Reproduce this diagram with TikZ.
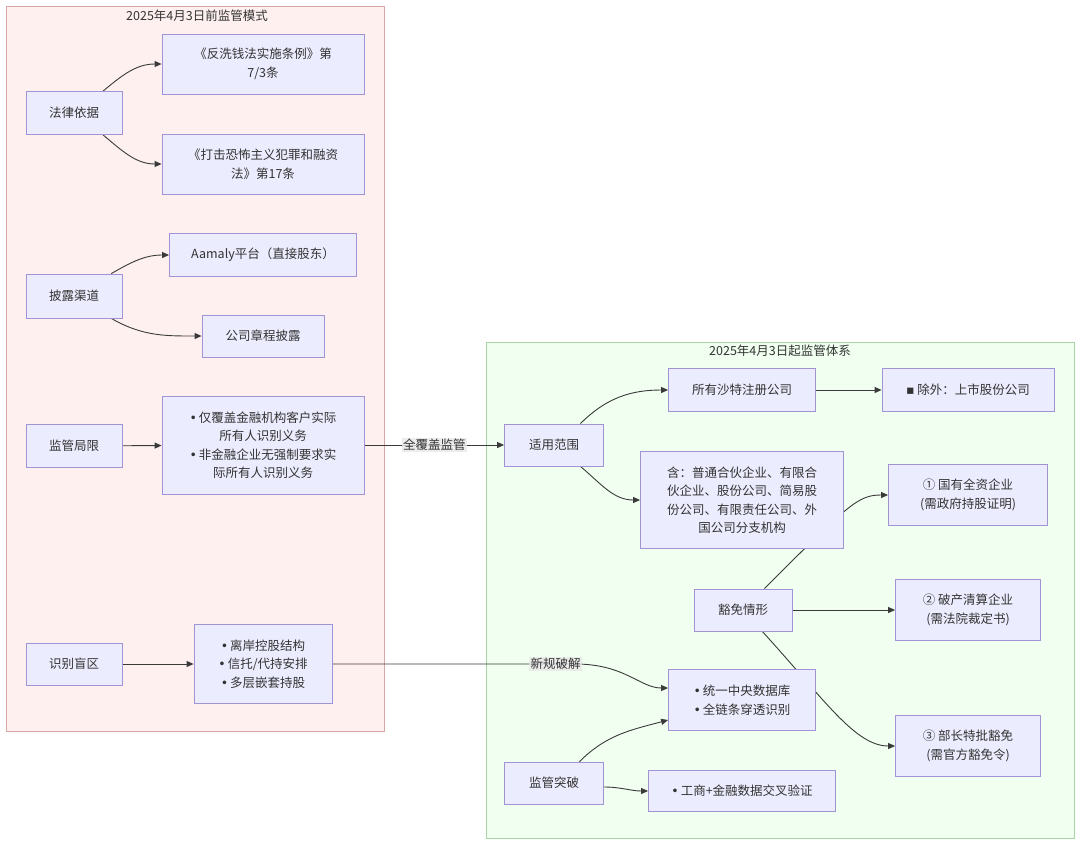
\documentclass[tikz,border=0pt]{standalone}
\usepackage{fontspec}
\setmainfont{Noto Sans CJK SC}
\newfontfamily\glyphfont{DejaVu Sans}
\usepackage{xcolor}
\usepackage{tikz}
\usetikzlibrary{arrows.meta, positioning, calc}
\definecolor{nodefill}{HTML}{ECECFF}
\definecolor{nodeborder}{HTML}{A293D6}
\definecolor{textgray}{HTML}{333333}
\definecolor{linegray}{HTML}{3A3A3A}
\definecolor{oldfill}{HTML}{FFF0F0}
\definecolor{oldborder}{HTML}{D6A8A8}
\definecolor{newfill}{HTML}{F0FFF0}
\definecolor{newborder}{HTML}{A9D6A9}
\definecolor{labelfill}{HTML}{E8E8E8}
\pgfdeclarelayer{bg}
\pgfdeclarelayer{edges}
\pgfsetlayers{bg,edges,main}
\newcommand{\bul}{{\glyphfont •}\,}
\tikzstyle{entity} = [rectangle, draw=nodeborder, fill=nodefill, text=textgray, align=center, inner sep=0pt, line width=0.8pt]
\tikzstyle{arrow} = [line width=0.9pt, draw=linegray, ->, >={Triangle[length=7pt,width=6pt]}]
\tikzstyle{edgelabel} = [fill=labelfill, fill opacity=0.8, text opacity=1, text=textgray, inner sep=1.5pt]
\tikzstyle{cluster} = [line width=0.8pt]
\tikzstyle{clustertitle} = [text=textgray]

\begin{document}
\begin{tikzpicture}[x=1pt, y=1pt, font=\fontsize{12.5}{18.5}\selectfont]
    \useasboundingbox (0,0) rectangle (1080,-846);

    % Clusters
    \begin{pgfonlayer}{bg}
    \fill [white] (0,0) rectangle (1080,-846);
    \draw [cluster, draw=oldborder, fill=oldfill] (6,-6) rectangle (384,-731);
    \draw [cluster, draw=newborder, fill=newfill] (486,-342) rectangle (1074,-838);
    \end{pgfonlayer}
    \node (oldtitle) [clustertitle] at (197,-16) {2025年4月3日前监管模式};
    \node (newtitle) [clustertitle] at (780,-351) {2025年4月3日起监管体系};

    % Before 2025-04-03
    \node (law) [entity, minimum width=96pt, minimum height=43pt] at (74,-113) {法律依据};
    \node (amlreg) [entity, minimum width=202pt, minimum height=60pt] at (263,-64) {《反洗钱法实施条例》第\\7/3条};
    \node (ctf) [entity, minimum width=202pt, minimum height=60pt] at (263,-164) {《打击恐怖主义犯罪和融资\\法》第17条};
    \node (disclose) [entity, minimum width=96pt, minimum height=44pt] at (74,-296) {披露渠道};
    \node (aamaly) [entity, minimum width=187pt, minimum height=43pt] at (263,-255) {Aamaly平台（直接股东）};
    \node (charter) [entity, minimum width=122pt, minimum height=42pt] at (263,-336) {公司章程披露};
    \node (limit) [entity, minimum width=96pt, minimum height=43pt] at (74,-446) {监管局限};
    \node (limitlist) [entity, minimum width=202pt, minimum height=98pt] at (263,-445) {\bul 仅覆盖金融机构客户实际\\所有人识别义务\\\bul 非金融企业无强制要求实\\际所有人识别义务};
    \node (blind) [entity, minimum width=96pt, minimum height=42pt] at (74,-664) {识别盲区};
    \node (blindlist) [entity, minimum width=138pt, minimum height=79pt] at (263,-664) {\bul 离岸控股结构\\\bul 信托/代持安排\\\bul 多层嵌套持股};

    % From 2025-04-03
    \node (scope) [entity, minimum width=99pt, minimum height=42pt] at (554,-445) {适用范围};
    \node (allsaudi) [entity, minimum width=147pt, minimum height=43pt] at (742,-390) {所有沙特注册公司};
    \node (excluded) [entity, minimum width=172pt, minimum height=43pt] at (968,-390) {{\glyphfont ▪} 除外：上市股份公司};
    \node (includes) [entity, minimum width=203pt, minimum height=97pt] at (742,-500) {含：普通合伙企业、有限合\\伙企业、股份公司、简易股\\份公司、有限责任公司、外\\国公司分支机构};
    \node (exone) [entity, minimum width=159pt, minimum height=61pt] at (968,-495) {① 国有全资企业\\(需政府持股证明)};
    \node (exempt) [entity, minimum width=98pt, minimum height=42pt] at (743,-610) {豁免情形};
    \node (extwo) [entity, minimum width=145pt, minimum height=61pt] at (968,-610) {② 破产清算企业\\(需法院裁定书)};
    \node (unified) [entity, minimum width=147pt, minimum height=61pt] at (742,-700) {\bul 统一中央数据库\\\bul 全链条穿透识别};
    \node (exthree) [entity, minimum width=145pt, minimum height=61pt] at (968,-746) {③ 部长特批豁免\\(需官方豁免令)};
    \node (breakthrough) [entity, minimum width=99pt, minimum height=42pt] at (554,-783) {监管突破};
    \node (crosscheck) [entity, minimum width=187pt, minimum height=41pt] at (742,-791) {\bul 工商+金融数据交叉验证};

    \coordinate (bend) at (575,-664);

    % Arrows
    \begin{pgfonlayer}{edges}
    \draw [arrow] (law.37) to[out=40, in=180] (amlreg.west);
    \draw [arrow] (law.-37) to[out=-40, in=180] (ctf.west);
    \draw [arrow] (disclose.31) to[out=30, in=180] (aamaly.west);
    \draw [arrow] (disclose.-31) to[out=-30, in=180] (charter.west);
    \draw [arrow] (limit) -- (limitlist);
    \draw [arrow] (blind) -- (blindlist);
    \draw [arrow] (limitlist.east) -- node[edgelabel] {全覆盖监管} (scope.west);
    \draw [arrow] (blindlist.east) -- node[edgelabel, pos=0.92] {新规破解} (bend) .. controls (625,-664) and (640,-688) .. ([yshift=12pt]unified.west);
    \draw [arrow] (scope.39) to[out=45, in=180] (allsaudi.west);
    \draw [arrow] (scope.-39) to[out=-40, in=180] (includes.west);
    \draw [arrow] (allsaudi) -- (excluded);
    \draw [arrow] (exempt.45) .. controls ($(exempt.45)+(85,85)$) and ($(exone.west)+(-30,0)$) .. (exone.west);
    \draw [arrow] (exempt) -- (extwo);
    \draw [arrow] (exempt.-48) .. controls ($(exempt.-48)+(62,-68)$) and ($(exthree.west)+(-40,0)$) .. (exthree.west);
    \draw [arrow] (breakthrough.40) to[out=45, in=195] ([yshift=-20pt]unified.west);
    \draw [arrow] ([yshift=-4pt]breakthrough.east) to[out=0, in=180] (crosscheck.west);
    \end{pgfonlayer}
\end{tikzpicture}
\end{document}
